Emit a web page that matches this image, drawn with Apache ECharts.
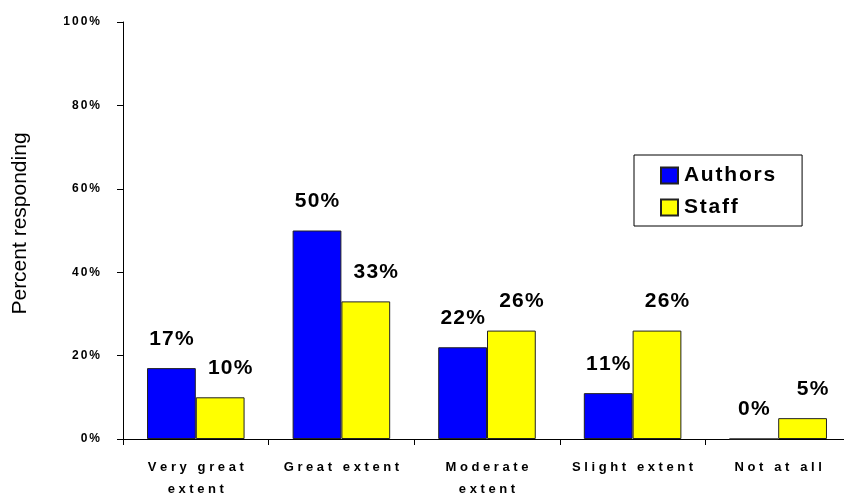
<!DOCTYPE html>
<html>
<head>
<meta charset="utf-8">
<script src="https://cdn.jsdelivr.net/npm/echarts@6/dist/echarts.min.js"></script>
<style>
  html, body { margin: 0; padding: 0; background: #fff; overflow: hidden; }
  /* the plot runs a few pixels past the right edge of the window */
  #chart { width: 851px; height: 499px; }
</style>
</head>
<body>
<div id="chart"></div>
<script>
// Survey responses by extent, per group
const categories = ['Very great\nextent', 'Great extent', 'Moderate\nextent', 'Slight extent', 'Not at all'];
const authors = [17, 50, 22, 11, 0];
const staff = [10, 33, 26, 26, 5];
const seriesNames = ['Authors', 'Staff'];
const yTicks = [0, 20, 40, 60, 80, 100];

const FONT = '"Liberation Sans", Arial, sans-serif';

// Wrap every character in a rich token so the text gets wide tracking
function tracked(str, styleName) {
  return String(str).split('\n').map(function (line) {
    return line.split('').map(function (c) {
      return '{' + styleName + '|' + c + '}';
    }).join('');
  }).join('\n');
}

const chart = echarts.init(document.getElementById('chart'), null, { renderer: 'canvas' });

const valueLabel = function (dx) {
  return {
    show: true,
    position: 'top',
    distance: 18,
    offset: [dx, 0],
    formatter: function (p) { return tracked(p.value + '%', 'v'); },
    rich: {
      v: { fontFamily: FONT, fontWeight: 'bold', fontSize: 21, color: '#000', padding: [0, 0.6], lineHeight: 22 }
    }
  };
};

chart.setOption({
  animation: false,
  backgroundColor: '#fff',
  grid: { left: 123, right: 0, top: 22, bottom: 60, containLabel: false },
  legend: {
    orient: 'vertical',
    left: 634,
    top: 155,
    padding: [10, 26, 8, 26],
    itemWidth: 17,
    itemHeight: 16,
    itemGap: 11,
    icon: 'rect',
    borderColor: '#000',
    borderWidth: 1,
    backgroundColor: '#fff',
    data: seriesNames,
    formatter: function (name) { return tracked(name, 'l'); },
    textStyle: {
      rich: {
        l: { fontFamily: FONT, fontWeight: 'bold', fontSize: 21, color: '#000', padding: [0, 0.9], lineHeight: 20 }
      }
    }
  },
  xAxis: {
    type: 'category',
    data: categories,
    boundaryGap: true,
    axisLine: { show: true, lineStyle: { color: '#000', width: 1 } },
    axisTick: { show: true, interval: 0, length: 6, lineStyle: { color: '#000' } },
    axisLabel: {
      interval: 0,
      margin: 17,
      formatter: function (v) { return tracked(v, 'c'); },
      rich: {
        c: { fontFamily: FONT, fontWeight: 'bold', fontSize: 13, color: '#000', padding: [0, 1.8], lineHeight: 22 }
      }
    },
    splitLine: { show: false }
  },
  yAxis: {
    type: 'value',
    min: yTicks[0],
    max: yTicks[yTicks.length - 1],
    interval: yTicks[1] - yTicks[0],
    name: 'Percent responding',
    nameLocation: 'middle',
    nameRotate: 90,
    nameGap: 92,
    nameTextStyle: { fontFamily: FONT, fontSize: 21, color: '#000', padding: [0, 0, 0, 14] },
    axisLine: { show: true, lineStyle: { color: '#000', width: 1 } },
    axisTick: { show: true, length: 6, lineStyle: { color: '#000' } },
    axisLabel: {
      margin: 22,
      formatter: function (v) { return tracked(v + '%', 'y'); },
      rich: {
        y: { fontFamily: FONT, fontWeight: 'bold', fontSize: 12, color: '#000', padding: [0, 1] }
      }
    },
    splitLine: { show: false }
  },
  series: [
    {
      name: seriesNames[0],
      type: 'bar',
      data: authors,
      barGap: '0%',
      barCategoryGap: '33%',
      itemStyle: { color: '#0000FF', borderColor: '#222', borderWidth: 1 },
      label: valueLabel(0)
    },
    {
      name: seriesNames[1],
      type: 'bar',
      data: staff,
      barGap: '0%',
      barCategoryGap: '33%',
      itemStyle: { color: '#FFFF00', borderColor: '#222', borderWidth: 1 },
      label: valueLabel(10)
    }
  ]
});
</script>
</body>
</html>
